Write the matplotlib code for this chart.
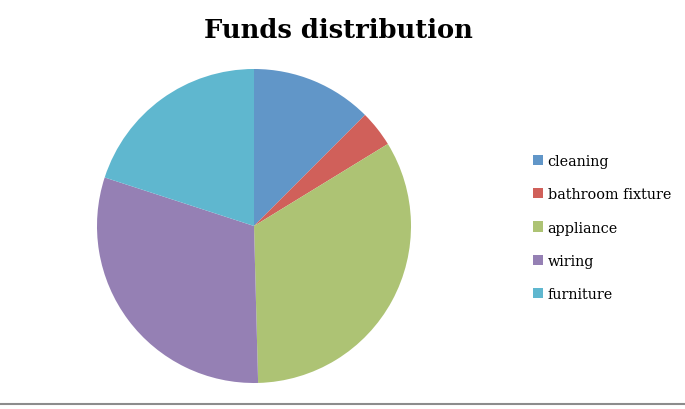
import matplotlib.pyplot as plt
from matplotlib.lines import Line2D

labels = ["cleaning", "bathroom fixture", "appliance", "wiring", "furniture"]
values = [1500, 450, 4000, 3650, 2400]
colors = ["#6196C8", "#D0605A", "#ADC374", "#9580B4", "#5FB7CF"]

fig = plt.figure(figsize=(6.85, 4.10), dpi=100)
ax = fig.add_axes([0.1416, 0.0634, 0.4584, 0.7659])
wedges, _ = ax.pie(values, colors=colors, startangle=90, counterclock=False,
                   wedgeprops=dict(linewidth=0))
ax.set_xlim(-1, 1)
ax.set_ylim(-1, 1)
ax.set_aspect("equal")

fig.text(0.494, 0.925, "Funds distribution", ha="center", va="center",
         fontsize=18.5, fontweight="bold", family="DejaVu Serif")

fig.legend(wedges, labels, loc="upper left", bbox_to_anchor=(0.77, 0.635),
           frameon=False, prop=dict(family="DejaVu Serif", size=10.4),
           handlelength=0.7, handleheight=0.7, handletextpad=0.3,
           labelspacing=1.32, borderaxespad=0)

fig.add_artist(Line2D([0, 1], [0.012, 0.012], color="#8c8c8c", linewidth=1.5,
                      transform=fig.transFigure))

fig.savefig("out.png", dpi=100)
